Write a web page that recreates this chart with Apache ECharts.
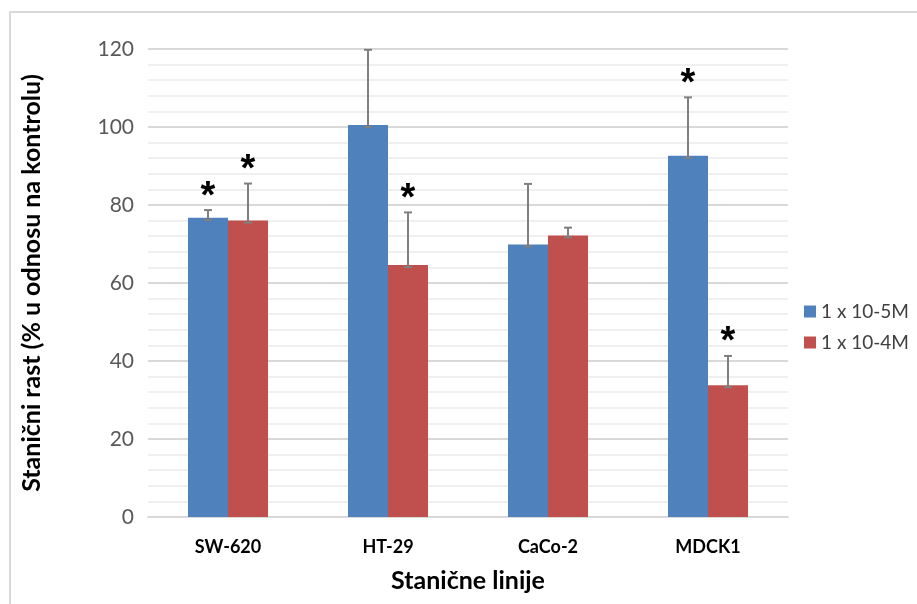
<!DOCTYPE html>
<html>
<head>
<meta charset="utf-8">
<script src="https://cdn.jsdelivr.net/npm/echarts@6/dist/echarts.min.js"></script>
<style>
html,body{margin:0;padding:0;background:#fff;}
#chart{width:917px;height:604px;}
</style>
</head>
<body>
<div id="chart"></div>
<script>
var categories = ['SW-620', 'HT-29', 'CaCo-2', 'MDCK1'];
var seriesNames = ['1 x 10-5M', '1 x 10-4M'];
var valuesLow = [76.7, 100.5, 69.9, 92.6];
var valuesHigh = [76.0, 64.6, 72.2, 33.8];
var errLow = [2.0, 19.3, 15.5, 15.0];
var errHigh = [9.5, 13.5, 2.0, 7.5];
var sigLow = [1, 0, 0, 1];
var sigHigh = [1, 1, 0, 1];
var yTicks = [0, 20, 40, 60, 80, 100, 120];

var FONT = 'Lato';

function errorSeries(name, values, errs, sigs, side) {
  var data = values.map(function (v, i) { return [i, v, errs[i], sigs[i]]; });
  return {
    type: 'custom',
    name: name + ' err',
    z: 10,
    silent: true,
    data: data,
    encode: { x: 0, y: [1] },
    renderItem: function (params, api) {
      var idx = api.value(0);
      var v = api.value(1);
      var e = api.value(2);
      var s = api.value(3);
      var band = api.size([1, 0])[0];
      var base = api.coord([idx, v]);
      var top = api.coord([idx, v + e]);
      var x = base[0] + side * band * 0.125;
      var yb = base[1] + 2;
      var yt = top[1];
      var cap = 4;
      var st = { stroke: '#7f7f7f', lineWidth: 2 };
      var children = [
        { type: 'line', shape: { x1: x, y1: yb, x2: x, y2: yt }, style: st },
        { type: 'line', shape: { x1: x - cap, y1: yt, x2: x + cap, y2: yt }, style: st },
        { type: 'line', shape: { x1: x - cap, y1: yb, x2: x + cap, y2: yb }, style: st }
      ];
      if (s) {
        children.push({
          type: 'text',
          style: {
            text: '*', x: x, y: yt + 6,
            align: 'center', verticalAlign: 'bottom',
            font: 'bold 38px "Liberation Sans"', fill: '#000'
          }
        });
      }
      return { type: 'group', children: children };
    }
  };
}

var chart = echarts.init(document.getElementById('chart'), null, { renderer: 'canvas' });
chart.setOption({
  backgroundColor: '#fff',
  animation: false,
  graphic: [{
    type: 'rect',
    shape: { x: 10, y: 12, width: 1000, height: 1000 },
    style: { fill: 'none', stroke: '#d9d9d9', lineWidth: 2 },
    silent: true
  }],
  grid: { left: 148, right: 129, top: 49, bottom: 87, containLabel: false },
  legend: {
    orient: 'vertical',
    left: 799,
    top: 297,
    itemWidth: 12,
    itemHeight: 12,
    itemGap: 12,
    icon: 'rect',
    data: seriesNames,
    textStyle: { fontFamily: FONT, fontSize: 19, color: '#404040', padding: [0, 0, 0, 0] }
  },
  xAxis: {
    type: 'category',
    data: categories,
    axisLine: { lineStyle: { color: '#d9d9d9', width: 2 } },
    axisTick: { show: false },
    axisLabel: { fontFamily: FONT, fontWeight: 'bold', fontSize: 18, color: '#000', margin: 21 },
    name: 'Stanične linije',
    nameLocation: 'middle',
    nameGap: 51,
    nameTextStyle: { fontFamily: FONT, fontWeight: 'bold', fontSize: 25, color: '#000' }
  },
  yAxis: {
    type: 'value',
    min: 0,
    max: 120,
    interval: 20,
    axisLine: { show: false },
    axisTick: { show: false },
    axisLabel: {
      fontFamily: FONT, fontSize: 21, color: '#595959', margin: 14,
      formatter: function (v) { return yTicks.indexOf(v) >= 0 ? String(v) : ''; }
    },
    splitLine: { lineStyle: { color: '#d9d9d9', width: 2 } },
    minorTick: { show: false, splitNumber: 5 },
    minorSplitLine: { show: true, lineStyle: { color: '#f0f0f0', width: 2 } },
    name: 'Stanični rast (% u odnosu na kontrolu)',
    nameLocation: 'middle',
    nameGap: 104,
    nameTextStyle: { fontFamily: FONT, fontWeight: 'bold', fontSize: 25, color: '#000' }
  },
  series: [
    {
      type: 'bar', name: seriesNames[0], data: valuesLow,
      barGap: '0%', barCategoryGap: '50%',
      itemStyle: { color: '#4f81bd' }
    },
    {
      type: 'bar', name: seriesNames[1], data: valuesHigh,
      barGap: '0%', barCategoryGap: '50%',
      itemStyle: { color: '#c0504d' }
    },
    errorSeries(seriesNames[0], valuesLow, errLow, sigLow, -1),
    errorSeries(seriesNames[1], valuesHigh, errHigh, sigHigh, 1)
  ]
});
</script>
</body>
</html>
